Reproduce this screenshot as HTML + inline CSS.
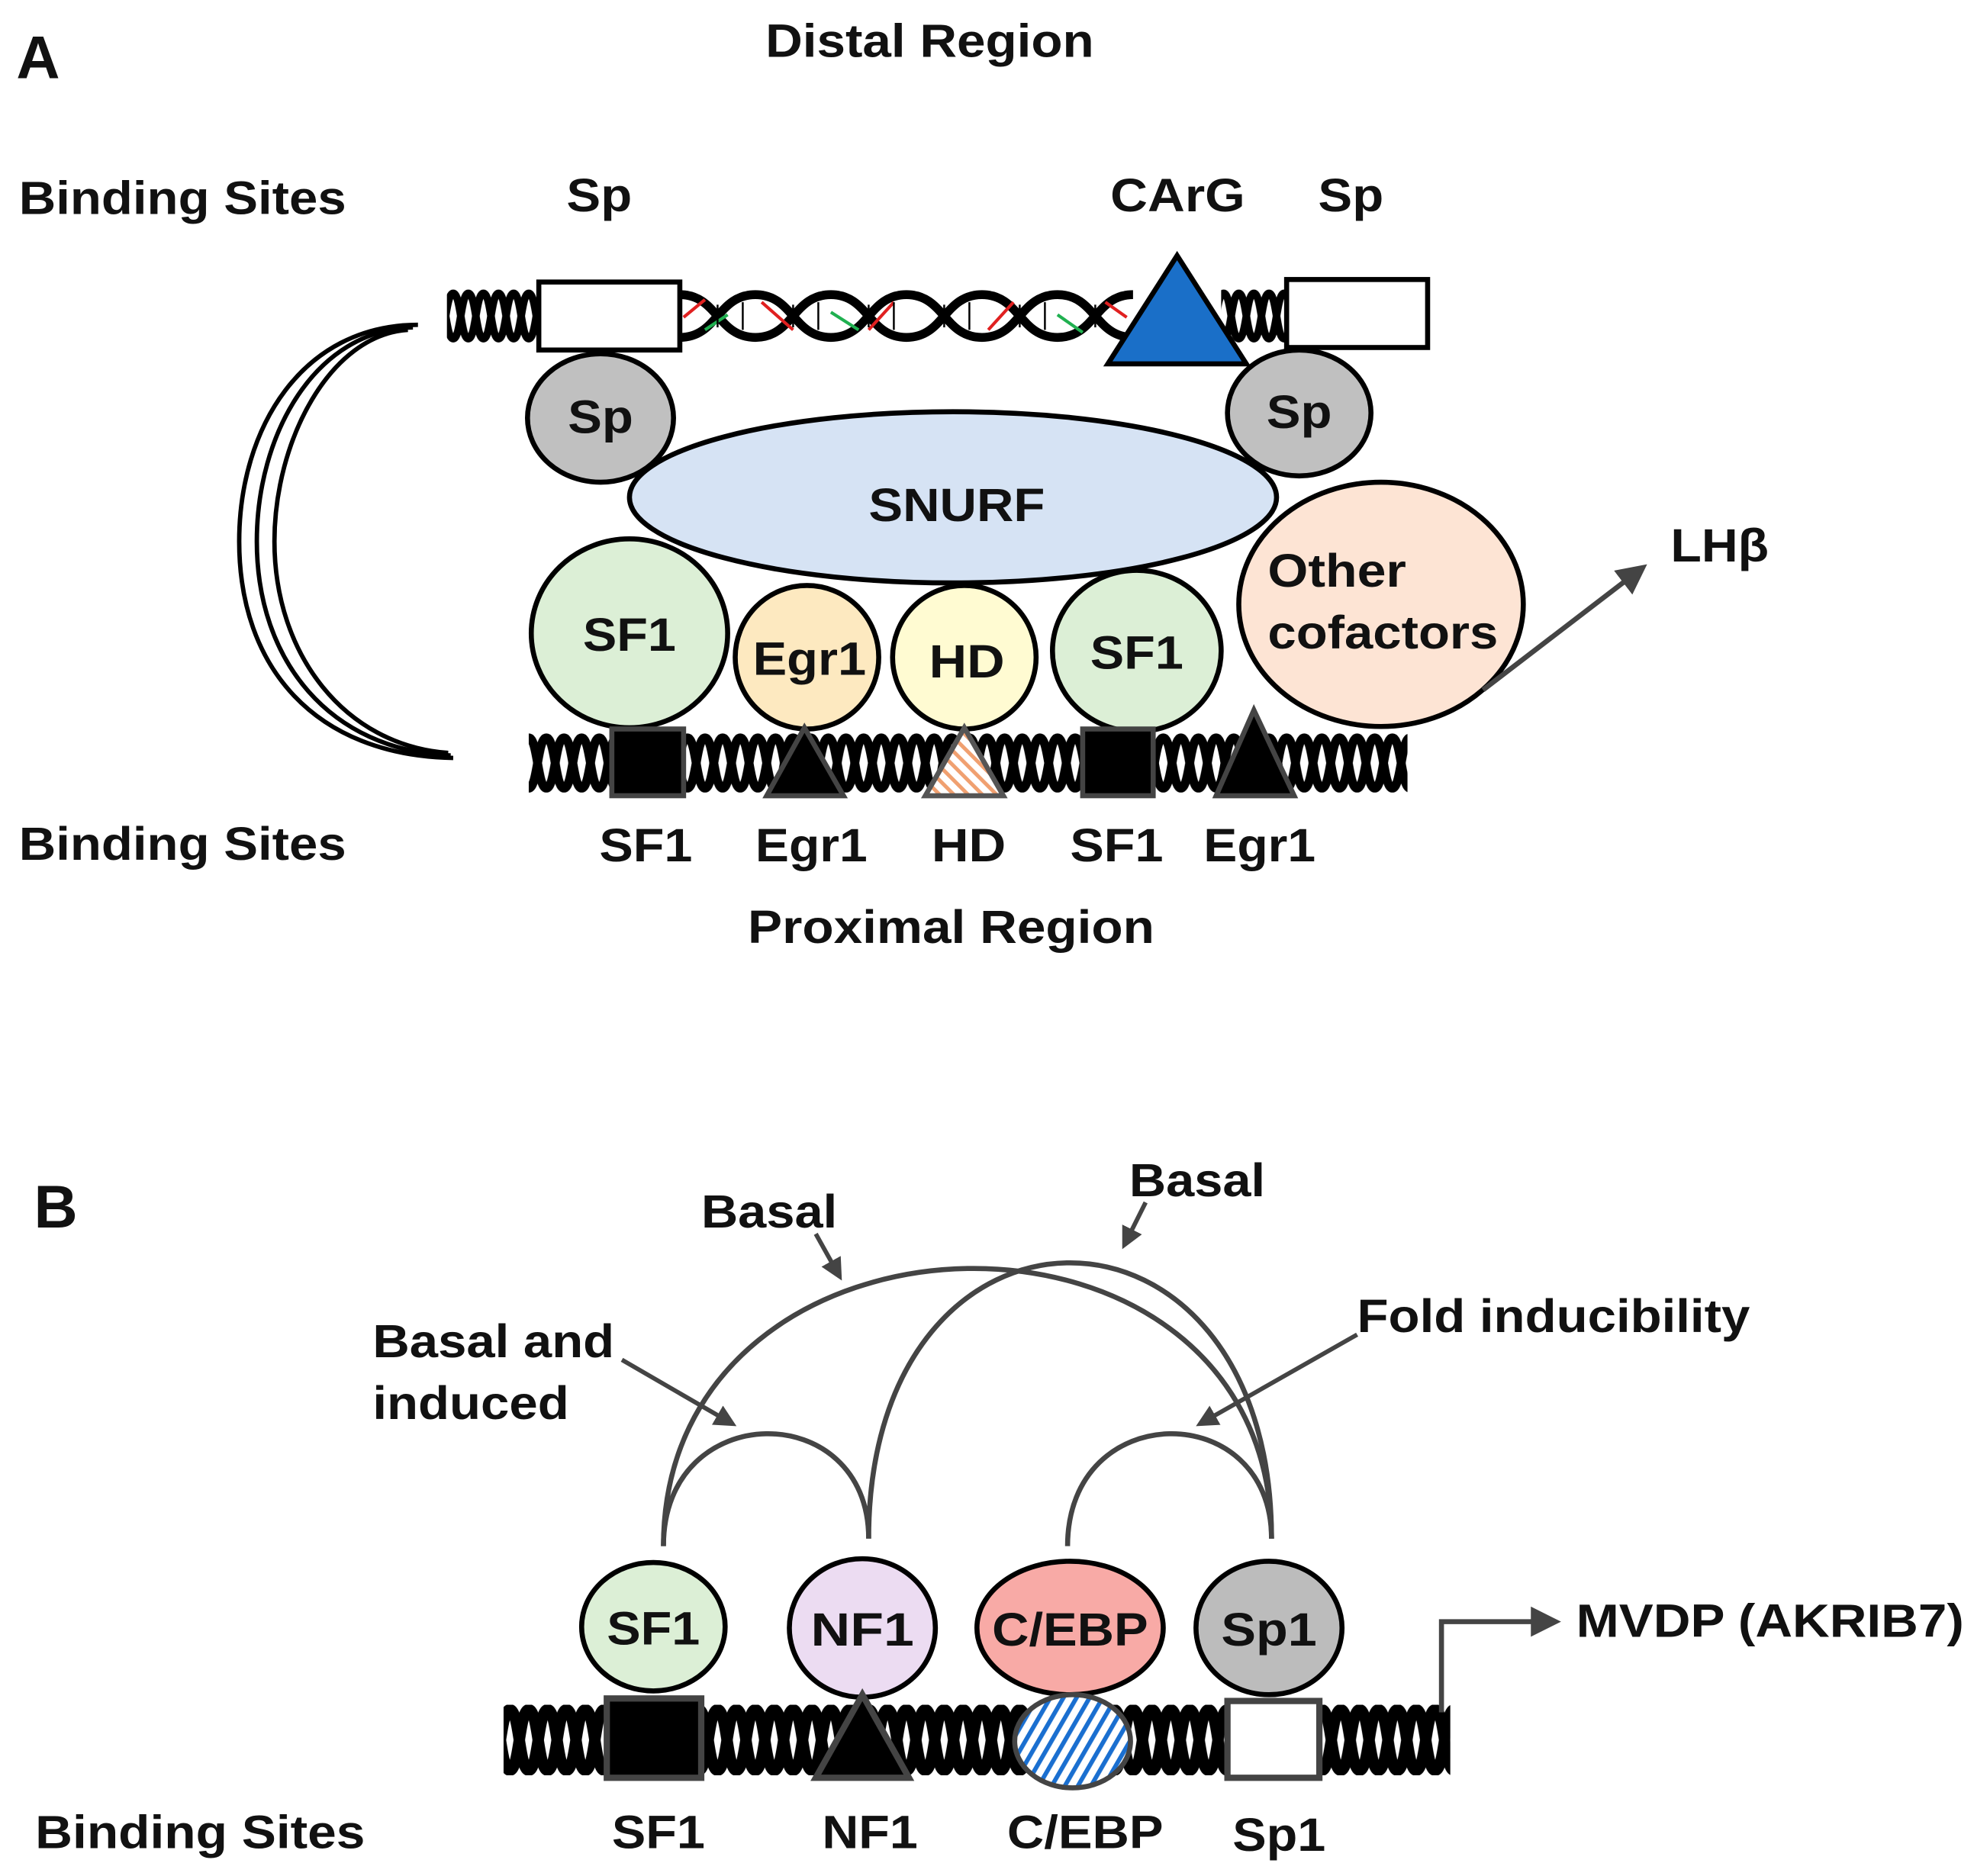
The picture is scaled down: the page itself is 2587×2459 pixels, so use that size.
<!DOCTYPE html>
<html><head><meta charset="utf-8"><style>
html,body{margin:0;padding:0;background:#fff}
svg{display:block}
text{font-family:"Liberation Sans",Arial,sans-serif;font-weight:bold;fill:#111}
</style></head><body>
<svg width="2587" height="2459" viewBox="0 0 1568 1490" preserveAspectRatio="none" xmlns="http://www.w3.org/2000/svg">
<defs>
<pattern id="dnaT" x="0" y="229" width="24" height="44" patternUnits="userSpaceOnUse">
<path d="M0,4 C6,4 6,40 12,40 C18,40 18,4 24,4" fill="none" stroke="#000" stroke-width="6"/>
<path d="M0,40 C6,40 6,4 12,4 C18,4 18,40 24,40" fill="none" stroke="#000" stroke-width="6"/>
<line x1="6" y1="10" x2="6" y2="34" stroke="#000" stroke-width="1.5"/>
</pattern>
<pattern id="dnaB" x="0" y="582" width="28" height="48" patternUnits="userSpaceOnUse">
<path d="M0,4 C7,4 7,44 14,44 C21,44 21,4 28,4" fill="none" stroke="#000" stroke-width="7"/>
<path d="M0,44 C7,44 7,4 14,4 C21,4 21,44 28,44" fill="none" stroke="#000" stroke-width="7"/>
<line x1="7" y1="12" x2="7" y2="36" stroke="#000" stroke-width="1.5"/>
<line x1="21" y1="12" x2="21" y2="36" stroke="#000" stroke-width="1.5"/>
</pattern>
<pattern id="dnaC" x="0" y="1354" width="30" height="56" patternUnits="userSpaceOnUse">
<path d="M0,4 C7.5,4 7.5,52 15,52 C22.5,52 22.5,4 30,4" fill="none" stroke="#000" stroke-width="9"/>
<path d="M0,52 C7.5,52 7.5,4 15,4 C22.5,4 22.5,52 30,52" fill="none" stroke="#000" stroke-width="9"/>
<line x1="7.5" y1="14" x2="7.5" y2="42" stroke="#000" stroke-width="1.5"/>
<line x1="22.5" y1="14" x2="22.5" y2="42" stroke="#000" stroke-width="1.5"/>
</pattern>
<pattern id="hatchO" width="8" height="8" patternUnits="userSpaceOnUse" patternTransform="rotate(-45)">
<rect width="8" height="8" fill="#fff"/><rect width="3" height="8" fill="#f0a070"/>
</pattern>
<pattern id="hatchB" width="9" height="9" patternUnits="userSpaceOnUse" patternTransform="rotate(30)">
<rect width="9" height="9" fill="#fff"/><rect width="3.5" height="9" fill="#1a6fd0"/>
</pattern>
<marker id="ar" markerWidth="6" markerHeight="6" refX="4" refY="3" orient="auto" markerUnits="strokeWidth">
<path d="M0,0 L6,3 L0,6 z" fill="#444"/>
</marker>
<marker id="ar2" markerWidth="5" markerHeight="5" refX="4" refY="2.5" orient="auto" markerUnits="strokeWidth">
<path d="M0,0 L5,2.5 L0,5 z" fill="#444"/>
</marker>
</defs>

<!-- Panel A -->
<text x="13" y="62" font-size="48">A</text>
<text x="608" y="45" font-size="37" textLength="261" lengthAdjust="spacingAndGlyphs">Distal Region</text>
<text x="15" y="170" font-size="37" textLength="260" lengthAdjust="spacingAndGlyphs">Binding Sites</text>
<text x="450" y="168" font-size="37" textLength="52" lengthAdjust="spacingAndGlyphs">Sp</text>
<text x="882" y="168" font-size="37" textLength="107" lengthAdjust="spacingAndGlyphs">CArG</text>
<text x="1047" y="168" font-size="37" textLength="52" lengthAdjust="spacingAndGlyphs">Sp</text>

<!-- top DNA -->
<rect x="355" y="229" width="75" height="44" fill="url(#dnaT)"/>
<rect x="970" y="229" width="55" height="44" fill="url(#dnaT)"/>
<g fill="none" stroke-width="7">
<path d="M540,234 C570,234 570,268 600,268 C630,268 630,234 660,234 C690,234 690,268 720,268 C750,268 750,234 780,234 C810,234 810,268 840,268 C870,268 870,234 900,234" stroke="#000"/>
<path d="M540,268 C570,268 570,234 600,234 C630,234 630,268 660,268 C690,268 690,234 720,234 C750,234 750,268 780,268 C810,268 810,234 840,234 C870,234 870,268 900,268" stroke="#000"/>
</g>
<g fill="none" stroke-width="2.5">
<path d="M543,252 L560,238 M605,240 L630,262 M690,262 L710,240 M785,262 L805,240 M878,240 L895,252" stroke="#e02020"/>
<path d="M560,262 L578,250 M660,248 L682,262 M840,250 L860,264" stroke="#20b050"/>
</g>
<g stroke="#000" stroke-width="1.5">
<line x1="570" y1="242" x2="570" y2="260"/><line x1="590" y1="240" x2="590" y2="262"/>
<line x1="630" y1="242" x2="630" y2="260"/><line x1="650" y1="240" x2="650" y2="262"/>
<line x1="690" y1="242" x2="690" y2="260"/><line x1="710" y1="240" x2="710" y2="262"/>
<line x1="750" y1="242" x2="750" y2="260"/><line x1="770" y1="240" x2="770" y2="262"/>
<line x1="810" y1="242" x2="810" y2="260"/><line x1="830" y1="240" x2="830" y2="262"/>
<line x1="870" y1="242" x2="870" y2="260"/>
</g>
<rect x="428" y="224" width="112" height="54" fill="#fff" stroke="#000" stroke-width="4"/>
<rect x="1022" y="222" width="112" height="54" fill="#fff" stroke="#000" stroke-width="4"/>
<polygon points="935,203 880,289 990,289" fill="#1a6fc8" stroke="#000" stroke-width="4"/>

<!-- loop arcs -->
<g fill="none" stroke="#000" stroke-width="3.5">
<path d="M332,258 C240,258 190,340 190,430 C190,530 250,600 360,602"/>
<path d="M328,260 C250,262 204,345 204,430 C204,525 262,596 358,600"/>
<path d="M324,262 C262,266 218,350 218,430 C218,520 274,592 356,598"/>
</g>

<!-- proteins -->
<ellipse cx="477" cy="332" rx="58" ry="51" fill="#c0c0c0" stroke="#000" stroke-width="4"/>
<ellipse cx="1032" cy="328" rx="57" ry="50" fill="#c0c0c0" stroke="#000" stroke-width="4"/>
<ellipse cx="757" cy="395" rx="257" ry="68" fill="#d6e3f4" stroke="#000" stroke-width="4"/>
<ellipse cx="1097" cy="480" rx="113" ry="97" fill="#fde4d4" stroke="#000" stroke-width="4"/>
<ellipse cx="500" cy="503" rx="78" ry="75" fill="#dcefd6" stroke="#000" stroke-width="4"/>
<ellipse cx="641" cy="522" rx="57" ry="57" fill="#fde9c0" stroke="#000" stroke-width="4"/>
<ellipse cx="766" cy="522" rx="57" ry="57" fill="#fffbd2" stroke="#000" stroke-width="4"/>
<ellipse cx="903" cy="517" rx="67" ry="64" fill="#dcefd6" stroke="#000" stroke-width="4"/>
<text x="451" y="344" font-size="37" textLength="52" lengthAdjust="spacingAndGlyphs">Sp</text>
<text x="1006" y="340" font-size="37" textLength="52" lengthAdjust="spacingAndGlyphs">Sp</text>
<text x="690" y="414" font-size="37" textLength="140" lengthAdjust="spacingAndGlyphs">SNURF</text>
<text x="1007" y="466" font-size="37" textLength="110" lengthAdjust="spacingAndGlyphs">Other</text>
<text x="1007" y="515" font-size="37" textLength="183" lengthAdjust="spacingAndGlyphs">cofactors</text>
<text x="463" y="517" font-size="37" textLength="74" lengthAdjust="spacingAndGlyphs">SF1</text>
<text x="598" y="536" font-size="37" textLength="90" lengthAdjust="spacingAndGlyphs">Egr1</text>
<text x="738" y="538" font-size="37" textLength="60" lengthAdjust="spacingAndGlyphs">HD</text>
<text x="866" y="531" font-size="37" textLength="74" lengthAdjust="spacingAndGlyphs">SF1</text>
<line x1="1178" y1="548" x2="1302" y2="453" stroke="#444" stroke-width="4" marker-end="url(#ar)"/>
<text x="1327" y="446" font-size="37" textLength="78" lengthAdjust="spacingAndGlyphs">LHβ</text>

<!-- bottom DNA A -->
<rect x="420" y="582" width="698" height="48" fill="url(#dnaB)"/>
<rect x="486" y="579" width="57" height="53" fill="#000" stroke="#444" stroke-width="4"/>
<polygon points="639,578 609,632 670,632" fill="#000" stroke="#444" stroke-width="4"/>
<polygon points="766,578 735,632 797,632" fill="url(#hatchO)" stroke="#555" stroke-width="4"/>
<rect x="860" y="579" width="56" height="53" fill="#000" stroke="#444" stroke-width="4"/>
<polygon points="996,564 966,632 1028,632" fill="#000" stroke="#444" stroke-width="4"/>

<text x="15" y="683" font-size="37" textLength="260" lengthAdjust="spacingAndGlyphs">Binding Sites</text>
<text x="476" y="684" font-size="37" textLength="74" lengthAdjust="spacingAndGlyphs">SF1</text>
<text x="600" y="684" font-size="37" textLength="89" lengthAdjust="spacingAndGlyphs">Egr1</text>
<text x="740" y="684" font-size="37" textLength="59" lengthAdjust="spacingAndGlyphs">HD</text>
<text x="850" y="684" font-size="37" textLength="74" lengthAdjust="spacingAndGlyphs">SF1</text>
<text x="956" y="684" font-size="37" textLength="89" lengthAdjust="spacingAndGlyphs">Egr1</text>
<text x="594" y="749" font-size="37" textLength="323" lengthAdjust="spacingAndGlyphs">Proximal Region</text>

<!-- Panel B -->
<text x="27" y="975" font-size="48">B</text>
<text x="557" y="975" font-size="37" textLength="108" lengthAdjust="spacingAndGlyphs">Basal</text>
<text x="897" y="950" font-size="37" textLength="108" lengthAdjust="spacingAndGlyphs">Basal</text>
<text x="296" y="1078" font-size="37" textLength="192" lengthAdjust="spacingAndGlyphs">Basal and</text>
<text x="296" y="1127" font-size="37" textLength="156" lengthAdjust="spacingAndGlyphs">induced</text>
<text x="1078" y="1058" font-size="37" textLength="312" lengthAdjust="spacingAndGlyphs">Fold inducibility</text>

<g fill="none" stroke="#444" stroke-width="4">
<path d="M527,1228 C527,1110 690,1110 690,1222"/>
<path d="M848,1228 C848,1110 1010,1110 1010,1222"/>
<path d="M527,1228 C527,940 1010,930 1010,1222"/>
<path d="M690,1222 C690,930 1010,930 1010,1222"/>
</g>
<g stroke="#444" stroke-width="3.5">
<line x1="648" y1="980" x2="667" y2="1014" marker-end="url(#ar2)"/>
<line x1="910" y1="955" x2="893" y2="989" marker-end="url(#ar2)"/>
<line x1="494" y1="1080" x2="582" y2="1131" marker-end="url(#ar2)"/>
<line x1="1078" y1="1060" x2="953" y2="1131" marker-end="url(#ar2)"/>
</g>

<ellipse cx="519" cy="1292" rx="57" ry="51" fill="#dcefd6" stroke="#000" stroke-width="4"/>
<ellipse cx="685" cy="1293" rx="58" ry="55" fill="#ecdcf2" stroke="#000" stroke-width="4"/>
<ellipse cx="850" cy="1293" rx="74" ry="53" fill="#f8aaa6" stroke="#000" stroke-width="4"/>
<ellipse cx="1008" cy="1293" rx="58" ry="53" fill="#bcbcbc" stroke="#000" stroke-width="4"/>
<text x="482" y="1306" font-size="37" textLength="74" lengthAdjust="spacingAndGlyphs">SF1</text>
<text x="644" y="1307" font-size="37" textLength="82" lengthAdjust="spacingAndGlyphs">NF1</text>
<text x="788" y="1307" font-size="37" textLength="124" lengthAdjust="spacingAndGlyphs">C/EBP</text>
<text x="970" y="1307" font-size="37" textLength="76" lengthAdjust="spacingAndGlyphs">Sp1</text>

<rect x="400" y="1354" width="752" height="56" fill="url(#dnaC)"/>
<rect x="482" y="1349" width="75" height="63" fill="#000" stroke="#444" stroke-width="5"/>
<polygon points="685,1346 648,1412 722,1412" fill="#000" stroke="#444" stroke-width="5"/>
<ellipse cx="852" cy="1383" rx="46" ry="37" fill="url(#hatchB)" stroke="#444" stroke-width="4"/>
<rect x="975" y="1351" width="73" height="61" fill="#fff" stroke="#444" stroke-width="5"/>
<polyline points="1145,1360 1145,1288 1232,1288" fill="none" stroke="#444" stroke-width="4" marker-end="url(#ar)"/>
<text x="1252" y="1300" font-size="37" textLength="308" lengthAdjust="spacingAndGlyphs">MVDP (AKRIB7)</text>

<text x="28" y="1468" font-size="37" textLength="262" lengthAdjust="spacingAndGlyphs">Binding Sites</text>
<text x="486" y="1468" font-size="37" textLength="74" lengthAdjust="spacingAndGlyphs">SF1</text>
<text x="653" y="1468" font-size="37" textLength="76" lengthAdjust="spacingAndGlyphs">NF1</text>
<text x="800" y="1468" font-size="37" textLength="124" lengthAdjust="spacingAndGlyphs">C/EBP</text>
<text x="979" y="1470" font-size="37" textLength="74" lengthAdjust="spacingAndGlyphs">Sp1</text>
</svg>
</body></html>
